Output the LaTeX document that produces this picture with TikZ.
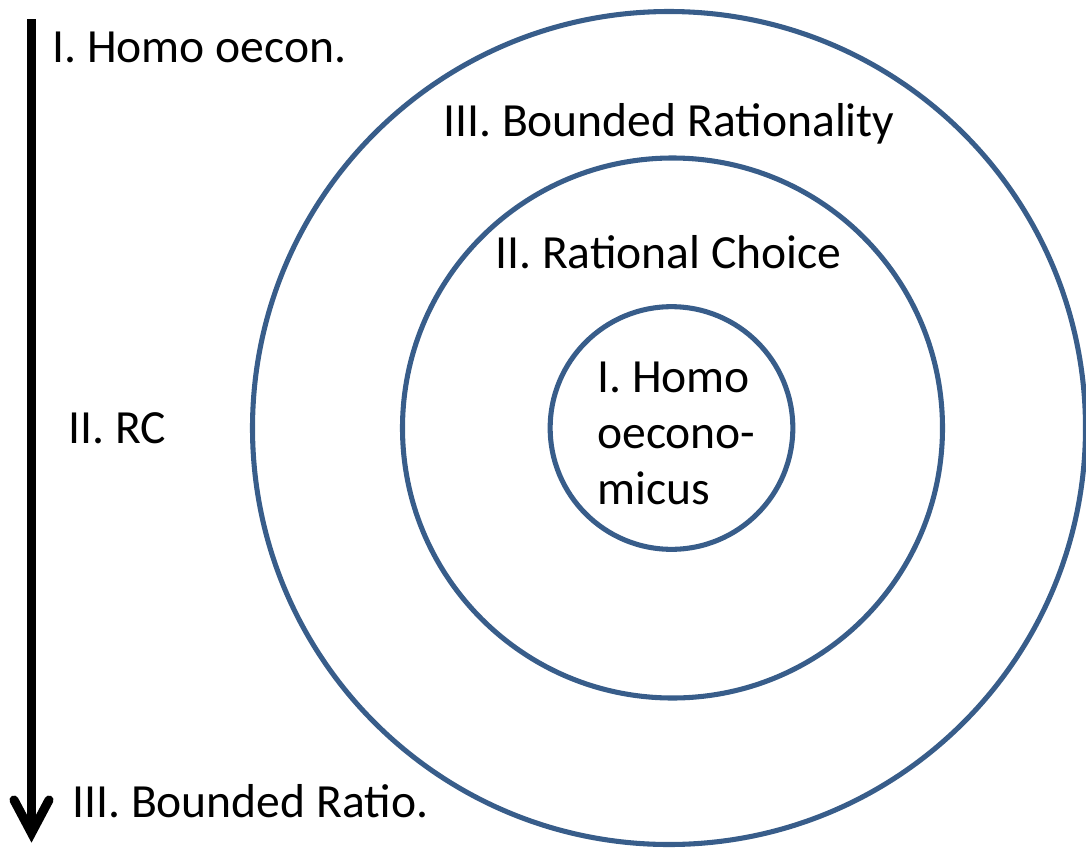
\documentclass[tikz,border=0pt]{standalone}
\usepackage{fontspec}
\setmainfont{Carlito}
\definecolor{ringblue}{RGB}{56,93,138}
\tikzset{
  ring/.style={circle, draw=ringblue, line width=3.8pt, inner sep=0pt, fill=none},
  lbl/.style={inner sep=0pt, font=\fontsize{35.7}{42}\selectfont, text=black},
}
\begin{document}
\begin{tikzpicture}[x=0.75pt, y=-0.75pt]
\useasboundingbox (0,0) rectangle (1086,850);
% circles
\node[ring, minimum size=624.75pt] (outer) at (669,428) {};
\node[ring, minimum size=405pt] (middle) at (672.5,428) {};
\node[ring, minimum size=182pt] (inner) at (671.5,428) {};
% circle labels
\node[lbl, anchor=base west] (tb) at (443,136) {III. Bounded Rationality};
\node[lbl, anchor=base west] (trc) at (495,268) {II. Rational Choice};
\node[lbl, anchor=north west, align=left] (tho) at (597,362) {I. Homo\\oecono-\\micus};
% arrow
\coordinate (atop) at (31.5,19);
\coordinate (atip) at (31.5,833);
\coordinate (al) at (14,800);
\coordinate (ar) at (49,800);
\draw[line width=6.8pt] (atop) -- (31.5,830);
\draw[line width=6.8pt, line cap=round, line join=miter] (al) -- (atip) -- (ar);
% arrow labels
\node[lbl, anchor=base west] (a1) at (52,62) {I. Homo oecon.};
\node[lbl, anchor=base west] (a2) at (68,443) {II. RC};
\node[lbl, anchor=base west] (a3) at (72,817) {III. Bounded Ratio.};
\end{tikzpicture}
\end{document}
